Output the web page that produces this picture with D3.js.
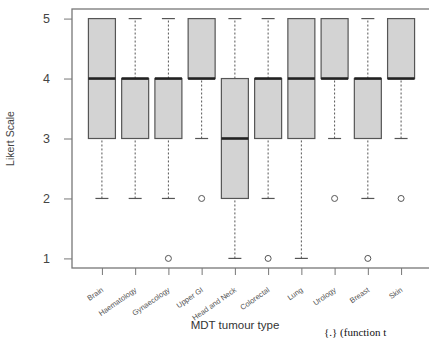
<!DOCTYPE html>
<html><head><meta charset="utf-8">
<script src="https://cdn.jsdelivr.net/npm/d3@7"></script>
<style>body{margin:0;background:#fff}svg{display:block}</style>
</head><body>
<svg id="c" width="429" height="338"></svg>
<script>
const categories = ["Brain","Haematology","Gynaecology","Upper GI","Head and Neck","Colorectal","Lung","Urology","Breast","Skin"];
const whiskerLow  = [2,2,2,3,1,2,1,3,2,3];
const q1          = [3,3,3,4,2,3,3,4,3,4];
const median      = [4,4,4,4,3,4,4,4,4,4];
const q3          = [5,4,4,5,4,4,5,5,4,5];
const whiskerHigh = [5,5,5,5,5,5,5,5,5,5];
const outliers    = [[],[],[1],[2],[],[1],[],[2],[1],[2]];
const yTicks = [1,2,3,4,5];

(function(){
const svg = d3.select("#c");
const pL = 72, pR = 431, pT = 9, pB = 268;
const x = d3.scaleLinear().domain([0.1, 10.9]).range([pL, pR]);
const y = d3.scaleLinear().domain([0.84, 5.16]).range([pB, pT]);
const boxW = 27, capW = 13;
const stroke = "#555";

svg.append("rect").attr("x", pL).attr("y", pT).attr("width", pR-pL).attr("height", pB-pT)
  .attr("fill","none").attr("stroke","#777").attr("stroke-width",1.3);

const ya = svg.append("g").attr("transform",`translate(${pL},0)`)
  .call(d3.axisLeft(y).tickValues(yTicks).tickSize(8).tickPadding(14).tickFormat(d3.format("d")));
ya.select(".domain").remove();
ya.selectAll("line").attr("stroke","#777");
ya.selectAll("text").attr("font-family","Liberation Sans, Arial, sans-serif").attr("font-size",12.5).attr("fill","#444");

const xa = svg.append("g").attr("transform",`translate(0,${pB})`)
  .call(d3.axisBottom(x).tickValues(d3.range(1,11)).tickSize(7).tickFormat(""));
xa.select(".domain").remove();
xa.selectAll("line").attr("stroke","#777");

categories.forEach((c,i)=>{
  svg.append("text").attr("transform",`translate(${x(i+1)+2},${pB+23}) rotate(-35)`)
    .attr("text-anchor","end").attr("font-family","Liberation Sans, Arial, sans-serif")
    .attr("font-size",7.5).attr("fill","#555").text(c);
});

const g = svg.append("g");
categories.forEach((c,i)=>{
  const cx = x(i+1);
  [[whiskerLow[i], q1[i]],[q3[i], whiskerHigh[i]]].forEach(([a,b])=>{
    if (a===b) return;
    g.append("line").attr("x1",cx).attr("x2",cx).attr("y1",y(a)).attr("y2",y(b))
      .attr("stroke",stroke).attr("stroke-width",1).attr("stroke-dasharray","2,2");
  });
  [whiskerLow[i], whiskerHigh[i]].forEach(v=>{
    g.append("line").attr("x1",cx-capW/2).attr("x2",cx+capW/2).attr("y1",y(v)).attr("y2",y(v))
      .attr("stroke",stroke).attr("stroke-width",1.2);
  });
  g.append("rect").attr("x",cx-boxW/2).attr("y",y(q3[i])).attr("width",boxW)
    .attr("height",y(q1[i])-y(q3[i])).attr("fill","#d3d3d3").attr("stroke",stroke).attr("stroke-width",1.2);
  g.append("line").attr("x1",cx-boxW/2).attr("x2",cx+boxW/2).attr("y1",y(median[i])).attr("y2",y(median[i]))
    .attr("stroke","#222").attr("stroke-width",2.6);
  outliers[i].forEach(v=>{
    g.append("circle").attr("cx",cx).attr("cy",y(v)).attr("r",3)
      .attr("fill","none").attr("stroke",stroke).attr("stroke-width",1);
  });
});

svg.append("text").attr("x",235).attr("y",329).attr("text-anchor","middle")
  .attr("font-family","Liberation Sans, Arial, sans-serif").attr("font-size",11.5).attr("fill","#333")
  .text("MDT tumour type");
svg.append("text").attr("transform",`translate(14,${(pT+pB)/2}) rotate(-90)`).attr("text-anchor","middle")
  .attr("font-family","Liberation Sans, Arial, sans-serif").attr("font-size",10.5).attr("fill","#444")
  .text("Likert Scale");
svg.append("text").attr("x",324).attr("y",336)
  .attr("font-family","Liberation Serif, serif").attr("font-size",11).attr("fill","#111")
  .text("{.} (function t");
})();
</script>
</body></html>
